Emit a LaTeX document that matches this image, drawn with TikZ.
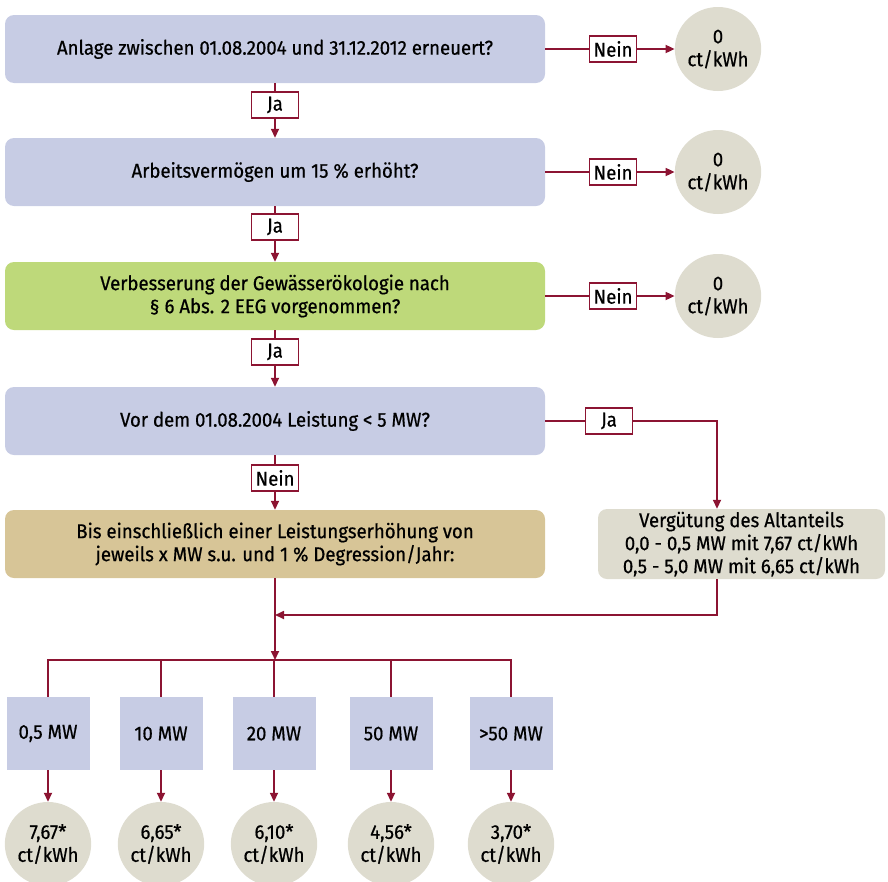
\documentclass[tikz,border=0pt]{standalone}
\usepackage{fontspec}
\setmainfont{Fira Sans}[FakeStretch=0.93, FakeBold=0.6]
\usetikzlibrary{arrows.meta,shapes.geometric}
\definecolor{lila}{RGB}{199,204,228}
\definecolor{gruen}{RGB}{190,217,122}
\definecolor{sand}{RGB}{215,197,151}
\definecolor{grau}{RGB}{222,220,207}
\definecolor{weinrot}{RGB}{140,20,50}
\begin{document}
\begin{tikzpicture}[x=1pt,y=-1pt,font=\fontsize{20}{23}\selectfont,
	frage/.style={rectangle, rounded corners=9pt, fill=lila, minimum width=540pt, minimum height=68pt, align=center, inner sep=0pt},
	antwort/.style={rectangle, draw=weinrot, fill=white, line width=1.6pt, minimum width=47pt, minimum height=26pt, inner sep=0pt},
	wert/.style={ellipse, fill=grau, minimum width=81pt, minimum height=84pt, inner sep=0pt, align=center},
	stufe/.style={rectangle, fill=lila, minimum width=83pt, minimum height=73pt, inner sep=0pt},
	linie/.style={draw=weinrot, line width=1.7pt},
	pfeil/.style={linie, -{Triangle[length=9pt,width=8pt]}}]
	\useasboundingbox (0,0) rectangle (888,881);
	\clip (0,0) rectangle (888,881);
	% Fragen
	\node (q1) at (275, 49)	[frage]	{Anlage zwischen 01.08.2004 und 31.12.2012 erneuert?};
	\node (q2) at (275,172)	[frage]	{Arbeitsvermögen um 15 \% erhöht?};
	\node (q3) at (275,296)	[frage, fill=gruen]	{Verbesserung der Gewässerökologie nach\\§ 6 Abs. 2 EEG vorgenommen?};
	\node (q4) at (275,421)	[frage]	{Vor dem 01.08.2004 Leistung < 5 MW?};
	\node (q5) at (275,544)	[frage, fill=sand]	{Bis einschließlich einer Leistungserhöhung von\\jeweils x MW s.u. und 1 \% Degression/Jahr:};
	\node (alt) at (741.5,544)	[frage, fill=grau, minimum width=287pt, minimum height=70pt]	{Vergütung des Altanteils\\0,0 - 0,5 MW mit 7,67 ct/kWh\\0,5 - 5,0 MW mit 6,65 ct/kWh};
	% Antworten
	\node (j1) at (275,105)	[antwort]	{Ja};
	\node (j2) at (275,227)	[antwort]	{Ja};
	\node (j3) at (275,352)	[antwort]	{Ja};
	\node (n4) at (275,478)	[antwort]	{Nein};
	\node (n1) at (613, 49)	[antwort]	{Nein};
	\node (n2) at (613,172)	[antwort]	{Nein};
	\node (n3) at (613,296)	[antwort]	{Nein};
	\node (j4) at (609,421)	[antwort]	{Ja};
	% Werte
	\node (z1) at (718, 49)	[wert]	{0\\ct/kWh};
	\node (z2) at (718,172)	[wert]	{0\\ct/kWh};
	\node (z3) at (718,296)	[wert]	{0\\ct/kWh};
	% Stufen
	\node (s1) at ( 48,733.5)	[stufe]	{0,5 MW};
	\node (s2) at (161,733.5)	[stufe]	{10 MW};
	\node (s3) at (274,733.5)	[stufe]	{20 MW};
	\node (s4) at (391,733.5)	[stufe]	{50 MW};
	\node (s5) at (511,733.5)	[stufe]	{>50 MW};
	\node (e1) at ( 48,844)	[wert]	{7,67*\\ct/kWh};
	\node (e2) at (161,844)	[wert]	{6,65*\\ct/kWh};
	\node (e3) at (274,844)	[wert]	{6,10*\\ct/kWh};
	\node (e4) at (391,844)	[wert]	{4,56*\\ct/kWh};
	\node (e5) at (511,844)	[wert]	{3,70*\\ct/kWh};
	\coordinate (knick) at (717,421);
	\coordinate (ecke) at (717,615);
	\coordinate (zufluss) at (275,615);
	\coordinate (bus) at (275,660);
	% Verbindungen
	\draw[linie] (q1) -- (j1);	\draw[pfeil] (j1) -- (q2);
	\draw[linie] (q2) -- (j2);	\draw[pfeil] (j2) -- (q3);
	\draw[linie] (q3) -- (j3);	\draw[pfeil] (j3) -- (q4);
	\draw[linie] (q4) -- (n4);	\draw[pfeil] (n4) -- (q5);
	\draw[linie] (q1) -- (n1);	\draw[pfeil] (n1) -- (z1);
	\draw[linie] (q2) -- (n2);	\draw[pfeil] (n2) -- (z2);
	\draw[linie] (q3) -- (n3);	\draw[pfeil] (n3) -- (z3);
	\draw[linie] (q4) -- (j4);	\draw[pfeil] (j4) -- (knick) -- (knick |- alt.north);
	\draw[pfeil] (alt.south -| ecke) -- (ecke) -- (zufluss);
	\draw[pfeil] (q5) -- (bus);
	\draw[linie] (s1.north) -- (s1.north |- bus) -- (s5.north |- bus) -- (s5.north);
	\foreach \i in {2,3,4}
		\draw[linie] (s\i.north |- bus) -- (s\i.north);
	\foreach \i in {1,...,5}
		\draw[pfeil] (s\i) -- (e\i);
\end{tikzpicture}
\end{document}
